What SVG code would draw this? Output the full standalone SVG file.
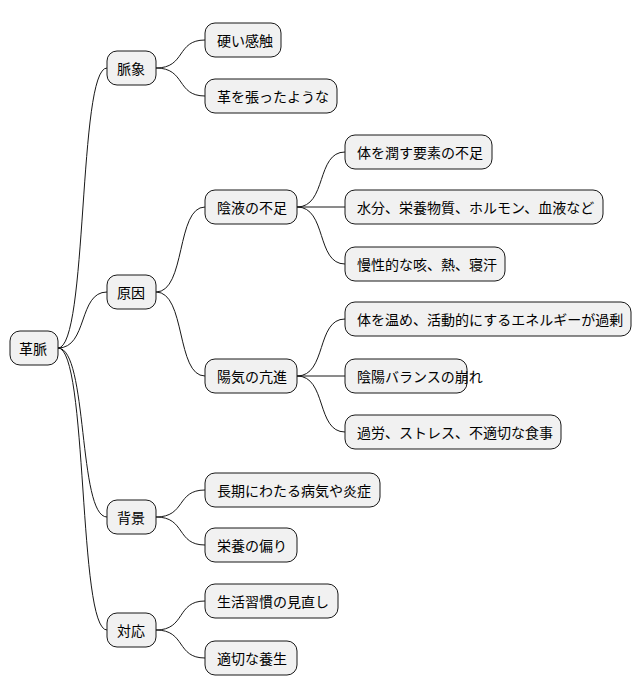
<svg xmlns="http://www.w3.org/2000/svg" width="642" height="696" viewBox="0 0 642 696">
<style>
.n rect{fill:#f1f1f1;stroke:#181818;stroke-width:1}
.n text{font-family:"Noto Sans CJK JP","Noto Sans",sans-serif;font-size:14px;fill:#000;dominant-baseline:central}
#edges path{fill:none;stroke:#181818;stroke-width:1}
</style>
<rect width="642" height="696" fill="#fff"/>
<g id="edges">
<path d="M58,348 C88,348 78,68 107,68"/>
<path d="M58,348 C88,348 78,292 107,292"/>
<path d="M58,348 C88,348 78,517 107,517"/>
<path d="M58,348 C88,348 78,630 107,630"/>
<path d="M156,68 C186,68 176,40 205,40"/>
<path d="M156,68 C186,68 176,96 205,96"/>
<path d="M156,292 C186,292 176,207 205,207"/>
<path d="M156,292 C186,292 176,376 205,376"/>
<path d="M297,207 C327,207 316,152 345,152"/>
<path d="M297,207 L345,207"/>
<path d="M297,207 C327,207 316,264 345,264"/>
<path d="M297,376 C327,376 316,319 345,319"/>
<path d="M297,376 L345,376"/>
<path d="M297,376 C327,376 316,432 345,432"/>
<path d="M156,517 C186,517 176,490 205,490"/>
<path d="M156,517 C186,517 176,545 205,545"/>
<path d="M156,630 C186,630 176,601 205,601"/>
<path d="M156,630 C186,630 176,658 205,658"/>
</g>
<g id="n0" class="n"><rect x="10" y="331" width="48" height="34" rx="10"/><text x="19" y="348">革脈</text></g>
<g id="n1" class="n"><rect x="107" y="51" width="49" height="34" rx="10"/><text x="117" y="68">脈象</text></g>
<g id="n2" class="n"><rect x="205" y="23" width="76" height="34" rx="10"/><text x="217" y="40">硬い感触</text></g>
<g id="n3" class="n"><rect x="205" y="79" width="132" height="34" rx="10"/><text x="217" y="96">革を張ったような</text></g>
<g id="n4" class="n"><rect x="107" y="275" width="49" height="34" rx="10"/><text x="117" y="292">原因</text></g>
<g id="n5" class="n"><rect x="205" y="190" width="92" height="34" rx="10"/><text x="217" y="207">陰液の不足</text></g>
<g id="n6" class="n"><rect x="345" y="135" width="147" height="34" rx="10"/><text x="357" y="152">体を潤す要素の不足</text></g>
<g id="n7" class="n"><rect x="345" y="190" width="258" height="34" rx="10"/><text x="357" y="207">水分、栄養物質、ホルモン、血液など</text></g>
<g id="n8" class="n"><rect x="345" y="247" width="160" height="34" rx="10"/><text x="357" y="264">慢性的な咳、熱、寝汗</text></g>
<g id="n9" class="n"><rect x="205" y="359" width="92" height="34" rx="10"/><text x="217" y="376">陽気の亢進</text></g>
<g id="n10" class="n"><rect x="345" y="302" width="286" height="34" rx="10"/><text x="357" y="319">体を温め、活動的にするエネルギーが過剰</text></g>
<g id="n11" class="n"><rect x="345" y="359" width="122" height="34" rx="10"/><text x="357" y="376">陰陽バランスの崩れ</text></g>
<g id="n12" class="n"><rect x="345" y="415" width="216" height="34" rx="10"/><text x="357" y="432">過労、ストレス、不適切な食事</text></g>
<g id="n13" class="n"><rect x="107" y="500" width="49" height="34" rx="10"/><text x="117" y="517">背景</text></g>
<g id="n14" class="n"><rect x="205" y="473" width="175" height="34" rx="10"/><text x="217" y="490">長期にわたる病気や炎症</text></g>
<g id="n15" class="n"><rect x="205" y="528" width="92" height="34" rx="10"/><text x="217" y="545">栄養の偏り</text></g>
<g id="n16" class="n"><rect x="107" y="613" width="49" height="34" rx="10"/><text x="117" y="630">対応</text></g>
<g id="n17" class="n"><rect x="205" y="584" width="133" height="34" rx="10"/><text x="217" y="601">生活習慣の見直し</text></g>
<g id="n18" class="n"><rect x="205" y="641" width="92" height="34" rx="10"/><text x="217" y="658">適切な養生</text></g>
</svg>
